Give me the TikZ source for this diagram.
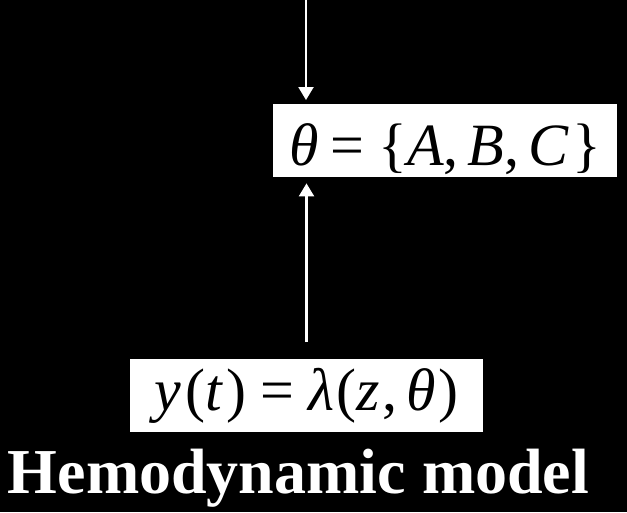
\documentclass[tikz,border=0pt]{standalone}
\usepackage{fontspec}
\setmainfont{Liberation Serif}
\usetikzlibrary{arrows.meta}

\begin{document}
\begin{tikzpicture}[x=1pt,y=-1pt,>={Triangle[length=13pt,width=15pt]},
  eqbox/.style={fill=white,text=black,inner sep=0pt,anchor=north,font=\fontsize{60}{60}\selectfont},
  flow/.style={draw=white,line width=2.2pt,->}]
  \fill[black] (0,0) rectangle (627,512);
  \useasboundingbox (0,0) rectangle (627,512);
  % parameter set and observation equation
  \node[eqbox,minimum width=344pt,text height=61pt,text depth=12pt] (param) at (445,104)
    {\textit{θ}\hspace{12pt}=\hspace{14pt}\{\textit{A},\hspace{9pt}\textit{B},\hspace{9pt}\textit{C}\hspace{3pt}\}};
  \node[eqbox,minimum width=353pt,text height=51pt,text depth=22pt] (obs) at (306.5,359)
    {\textit{y}\hspace{4pt}(\textit{t}\hspace{3pt})\hspace{14pt}=\hspace{14pt}\textit{λ}\hspace{2pt}(\textit{z}\hspace{3pt},\hspace{9pt}\textit{θ}\hspace{2pt})};
  \node[text=white,font=\fontsize{64}{64}\selectfont\bfseries,anchor=base] (title) at (298.5,493)
    {Hemodynamic model};
  \coordinate (in) at (306,0);
  \draw[flow,shorten >=4pt] (in) -- (in |- param.north);
  \draw[flow,shorten <=17pt,shorten >=6pt] (obs.north) -- (obs.north |- param.south);
\end{tikzpicture}
\end{document}
